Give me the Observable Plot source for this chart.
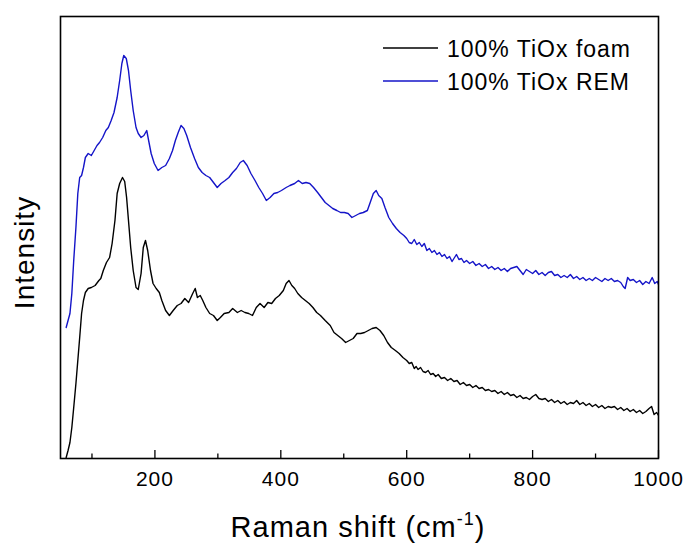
<!DOCTYPE html>
<html><head><meta charset="utf-8">
<script src="https://cdn.jsdelivr.net/npm/d3@7"></script>
<script src="https://cdn.jsdelivr.net/npm/@observablehq/plot@0.6"></script>
<style>body{margin:0;background:#fff} svg{display:block}</style>
</head><body><div id="chart"></div>
<script>
// Raman shift (cm-1), intensity (arb. units)
const foam = [[59,1],[62,8],[65,16],[68,31],[71,51],[74.5,75],[77.5,98],[80.5,121],[83.5,145],[86.5,158],[89.5,166],[94,170],[99,171],[105,173],[111,178],[114,180],[118,188],[123,196],[128,201],[132,215],[136.5,238],[140,265],[144,275],[148.5,281],[152,277],[155,261],[158,238],[161.5,211],[165.5,188],[170,171],[173.5,169],[178,185],[181.5,211],[185,218],[188.5,208],[193,188],[197,175],[202,170],[207,166],[211,158],[217,148],[223,143],[229,148],[235.5,153],[241.5,155],[247.5,160],[253.5,156],[260,165],[264,170],[267.5,161],[272,163],[276,158],[281,151],[287,145],[293,143],[299,138],[304,141],[310,145],[317.5,146],[323.5,150],[331,146],[337,148],[343,146],[349,145],[355,143],[361,151],[367,155],[373.5,151],[379.5,156],[385.5,155],[391.5,160],[397.5,163],[404,168],[408.5,175],[413,178],[417.5,173],[422,170],[427,165],[433,161],[439,158],[445,155],[451,151],[457,146],[463,143],[470.5,138],[478.5,133],[484.5,126],[490.5,123],[496.5,120],[503,116],[509,118],[515,120],[521,125],[527,125],[533,126],[539,128],[545,130],[551.5,131],[557.5,128],[563.5,123],[569.5,116],[575.5,111],[582,108],[588,105],[594,101],
[600,98],[604,95],[608,96],[612,90],[615,92],[618,89],[622,91],[626,87],[630,86],[634,88],[638,84],[642,85],[646,82],[650,84],[655,80],[660,81],[665,78],[670,80],[675,77],[680,78],[685,74],[690,76],[695,73],[700,74],[705,71],[710,73],[715,70],[720,71],[725,68],[730,69],[735,67],[740,68],[745,65],[750,67],[755,64],[760,66],[765,63],[770,64],[775,61],[780,63],[785,60],[790,61],[795,59],[800,62],[805,64],[810,60],[815,59],[820,60],[825,57],[830,59],[835,56],[840,58],[845,55],[850,57],[855,54],[860,56],[865,55],[870,58],[875,54],[880,56],[885,53],[890,55],[895,52],[900,54],[905,51],[910,53],[915,50],[920,52],[925,51],[930,52],[935,49],[940,51],[945,48],[950,50],[955,47],[960,49],[965,46],[970,48],[975,45],[980,47],[985,50],[989,52],[993,44],[997,46],[1000,43]];

const rem = [[59,131],[62,138],[65,145],[68,165],[71,198],[74.5,231],[77.5,265],[80.5,281],[83.5,283],[86.5,291],[89.5,301],[94,305],[99,303],[103.5,308],[108,313],[112,316],[117,321],[122,328],[126,331],[130.5,338],[135,346],[140,361],[144,378],[147.5,395],[150.5,403],[154.5,400],[158,388],[161.5,368],[165.5,348],[170,331],[173.5,325],[178,321],[182.5,323],[187,328],[190,318],[194,305],[199,295],[205,288],[211,291],[217,293],[223,300],[228,308],[232.5,318],[237,326],[241.5,333],[246,330],[250.5,323],[256.5,311],[263,300],[269,291],[275,286],[281,283],[287,281],[293,276],[299,271],[305,275],[311.5,278],[317.5,281],[323.5,286],[329.5,290],[335.5,296],[340.5,298],[346.5,293],[352.5,285],[359,278],[365,271],[371,265],[377,258],[383,261],[389,265],[395,266],[401,268],[408.5,271],[414.5,273],[422,275],[428,278],[434,275],[440,276],[446,275],[452,271],[458.5,266],[464.5,261],[470.5,256],[476.5,253],[482.5,250],[489,248],[495,246],[501,246],[507,245],[513,241],[519,243],[525,245],[531,246],[537.5,248],[542,256],[547,265],[551.5,268],[555.5,263],[560.5,260],[565.5,251],[571.5,241],[577.5,235],[583.5,230],[589.5,226],[595.5,223],
[600,220],[604,216],[608,215],[612,219],[616,214],[620,216],[624,212],[628,215],[632,208],[636,210],[640,206],[644,208],[648,204],[652,206],[656,202],[660,204],[664,200],[668,202],[672,197],[676,201],[679,204],[683,199],[687,200],[691,196],[695,198],[700,195],[705,197],[710,193],[715,195],[720,192],[725,194],[730,190],[735,192],[740,189],[745,191],[750,188],[755,190],[760,187],[765,190],[770,191],[775,192],[780,188],[785,184],[790,189],[795,187],[800,185],[805,188],[810,184],[815,186],[820,183],[825,186],[830,187],[835,183],[840,184],[845,181],[850,183],[855,181],[860,184],[865,180],[870,182],[875,179],[880,181],[885,178],[890,180],[895,178],[900,181],[905,179],[910,177],[915,180],[920,178],[925,180],[930,177],[935,178],[940,176],[944,172],[947,170],[951,181],[955,178],[960,179],[965,176],[970,178],[975,174],[980,177],[985,175],[990,181],[994,175],[998,177],[1000,174]];

const seriesNames = ["100% TiOx foam", "100% TiOx REM"];
const seriesColors = ["#000000", "#1414c8"];
const majorTicks = [200, 400, 600, 800, 1000];
const minorTicks = [100, 300, 500, 700, 900];

const toRows = (arr, name) => arr.map(([shift, intensity]) => ({shift, intensity, name}));
const rows = [...toRows(foam, seriesNames[0]), ...toRows(rem, seriesNames[1])];

const font = "'Liberation Sans', Arial, sans-serif";

const plot = Plot.plot({
  width: 687, height: 545,
  marginLeft: 60, marginRight: 29, marginTop: 16, marginBottom: 87,
  x: {domain: [50, 1000], label: null},
  y: {domain: [0, 442], axis: null},
  color: {domain: seriesNames, range: seriesColors},
  style: {fontFamily: font, background: "#fff", color: "#000"},
  marks: [
    Plot.line(rows, {x: "shift", y: "intensity", z: "name", stroke: "name", strokeWidth: 1.4, clip: true}),
    Plot.ruleX(majorTicks, {y1: 0, y2: 8, stroke: "#000", strokeWidth: 1.3}),
    Plot.ruleX(minorTicks, {y1: 0, y2: 4.5, stroke: "#000", strokeWidth: 1.3}),
    Plot.axisX(majorTicks, {tickSize: 0, tickPadding: 13, fontSize: 21, label: null, tickFormat: d => String(d)}),
    Plot.text(["Intensity"], {frameAnchor: "left", textAnchor: "middle", rotate: -90, dx: -35, dy: 15, fontSize: 28}),
    Plot.frame({stroke: "#000", strokeWidth: 1.6})
  ]
});

const svg = d3.select(plot);
svg.selectAll("text").style("letter-spacing", "1px");

// x-axis title with superscript
const xl = svg.append("text")
  .attr("x", 358).attr("y", 537)
  .attr("text-anchor", "middle")
  .style("font-family", font).style("font-size", "29px").style("letter-spacing", "1px").attr("fill", "#000");
xl.append("tspan").text("Raman shift (cm");
xl.append("tspan").attr("dy", -12).style("font-size", "18px").text("-1");
xl.append("tspan").attr("dy", 12).text(")");

// legend inside plot
const lg = svg.append("g");
seriesNames.forEach((name, i) => {
  const yy = 48 + i * 33;
  lg.append("line").attr("x1", 383).attr("x2", 438).attr("y1", yy).attr("y2", yy)
    .attr("stroke", seriesColors[i]).attr("stroke-width", 1.4);
  lg.append("text").attr("x", 447).attr("y", yy + 8.5)
    .attr("text-anchor", "start")
    .style("font-family", font).style("font-size", "23px").style("letter-spacing", "1px")
    .attr("fill", "#000").text(name);
});

document.getElementById("chart").append(plot);
</script>
</body></html>
